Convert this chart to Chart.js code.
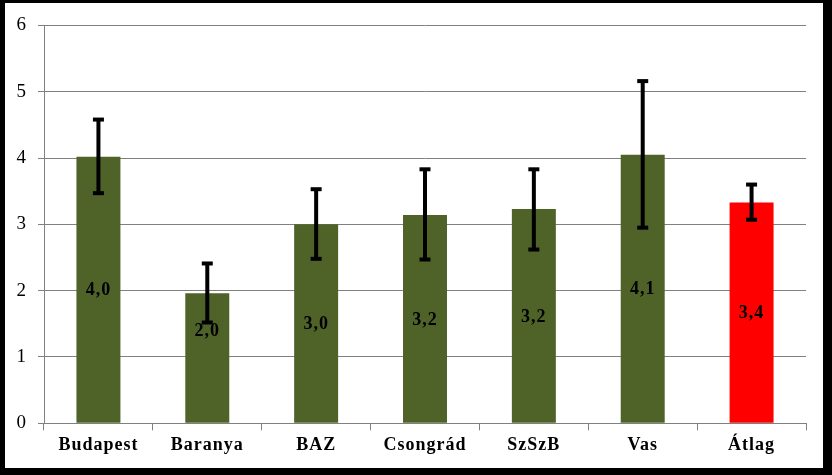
<!DOCTYPE html>
<html>
<head>
<meta charset="utf-8">
<script src="https://cdn.jsdelivr.net/npm/chart.js@4.4.1/dist/chart.umd.min.js"></script>
<style>
  html, body { margin: 0; padding: 0; background: #000; width: 832px; height: 475px; overflow: hidden; }
  #wrap { position: absolute; left: 5px; top: 3px; width: 818px; height: 465px; background: #fff; }
  canvas { display: block; }
</style>
</head>
<body>
<div id="wrap"><canvas id="c" width="818" height="465"></canvas></div>
<script>
const categories = ['Budapest', 'Baranya', 'BAZ', 'Csongrád', 'SzSzB', 'Vas', 'Átlag'];
const means = [4.02, 1.96, 3.00, 3.14, 3.23, 4.05, 3.33];
const errHigh = [4.58, 2.41, 3.53, 3.83, 3.83, 5.16, 3.60];
const errLow = [3.47, 1.52, 2.48, 2.47, 2.62, 2.95, 3.07];
const valueLabels = ['4,0', '2,0', '3,0', '3,2', '3,2', '4,1', '3,4'];
const yTicks = [0, 1, 2, 3, 4, 5, 6];

const barColors = categories.map((c, i) => i === categories.length - 1 ? '#FF0000' : '#4F6228');

const spacingPlugin = {
  id: 'spacing',
  beforeUpdate(chart) { chart.ctx.letterSpacing = '1px'; },
  beforeDraw(chart) { chart.ctx.letterSpacing = '1px'; }
};

const errorBarPlugin = {
  id: 'errorBars',
  afterDatasetsDraw(chart) {
    const ctx = chart.ctx;
    const meta = chart.getDatasetMeta(0);
    const y = chart.scales.y;
    ctx.save();
    ctx.strokeStyle = '#000';
    ctx.fillStyle = '#000';
    ctx.lineWidth = 4;
    meta.data.forEach((bar, i) => {
      const x = bar.x;
      const yt = y.getPixelForValue(errHigh[i]);
      const yb = y.getPixelForValue(errLow[i]);
      ctx.beginPath();
      ctx.moveTo(x, yt);
      ctx.lineTo(x, yb);
      ctx.stroke();
      ctx.fillRect(x - 5.5, yt - 2, 11, 4);
      ctx.fillRect(x - 5.5, yb - 2, 11, 4);
    });
    ctx.restore();
  }
};

const labelPlugin = {
  id: 'valueLabels',
  afterDatasetsDraw(chart, args, opts) {
    const ctx = chart.ctx;
    const meta = chart.getDatasetMeta(0);
    const y = chart.scales.y;
    ctx.save();
    ctx.letterSpacing = '1px';
    ctx.font = 'bold 18px "Liberation Serif", "Times New Roman", serif';
    ctx.fillStyle = '#000';
    ctx.textAlign = 'center';
    ctx.textBaseline = 'middle';
    meta.data.forEach((bar, i) => {
      const override = opts.anchorOverride && opts.anchorOverride[i];
      const yy = override !== undefined ? y.getPixelForValue(override) : (bar.y + bar.base) / 2;
      ctx.fillText(valueLabels[i], bar.x, yy + 1);
    });
    ctx.restore();
  }
};

new Chart(document.getElementById('c'), {
  type: 'bar',
  data: {
    labels: categories,
    datasets: [{
      data: means,
      backgroundColor: barColors,
      borderWidth: 0,
      categoryPercentage: 1.0,
      barPercentage: 0.404
    }]
  },
  options: {
    responsive: false,
    animation: false,
    events: [],
    layout: { padding: { top: 21.5, right: 17, left: 0, bottom: 0 } },
    plugins: {
      legend: { display: false },
      tooltip: { enabled: false },
      title: { display: false },
      valueLabels: { anchorOverride: { 1: 1.40 } }
    },
    scales: {
      x: {
        grid: { display: true, drawOnChartArea: false, drawTicks: true, tickLength: 7, color: '#808080', offset: true },
        border: { display: true, color: '#808080', width: 1 },
        ticks: {
          color: '#000',
          font: { family: '"Liberation Serif", "Times New Roman", serif', size: 18, weight: 'bold' },
          padding: 4,
          maxRotation: 0,
          autoSkip: false
        },
        afterFit(scale) { scale.height = 44.7; }
      },
      y: {
        min: yTicks[0],
        max: yTicks[yTicks.length - 1],
        afterBuildTicks(scale) { scale.ticks = yTicks.map(v => ({ value: v })); },
        grid: { color: '#808080', lineWidth: 1, tickLength: 6, drawTicks: true },
        border: { display: true, color: '#808080', width: 1 },
        ticks: {
          color: '#000',
          font: { family: '"Liberation Serif", "Times New Roman", serif', size: 19 },
          padding: 11,
          callback: v => String(v)
        },
        afterFit(scale) { scale.width = 39; }
      }
    }
  },
  plugins: [spacingPlugin, errorBarPlugin, labelPlugin]
});
</script>
</body>
</html>
